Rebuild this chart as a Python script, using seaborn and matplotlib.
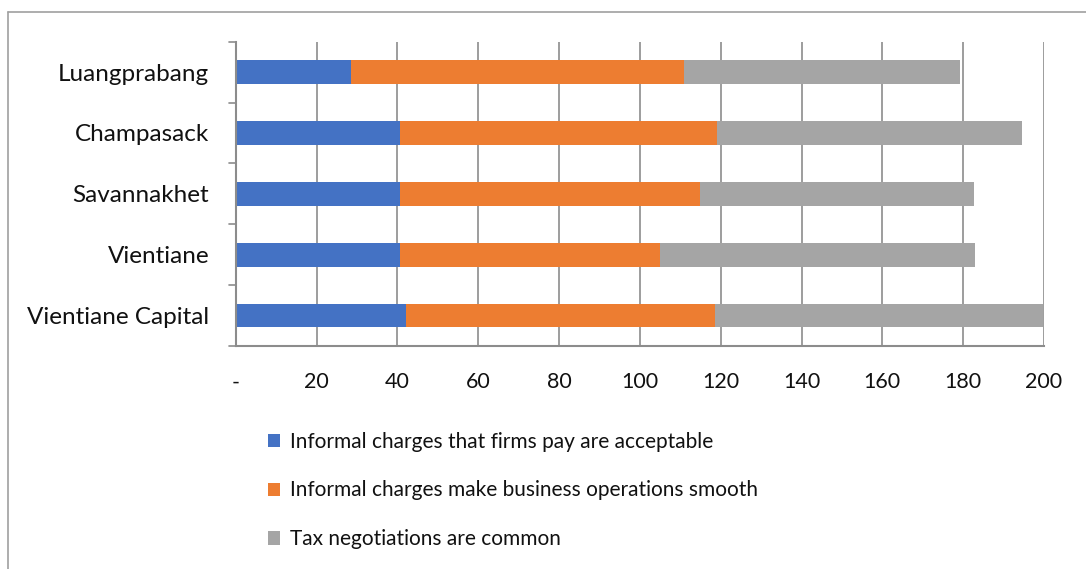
import matplotlib
matplotlib.use("Agg")
import matplotlib.pyplot as plt
from matplotlib.lines import Line2D
from matplotlib.patches import Patch
import seaborn as sns
import pandas as pd

regions = ["Luangprabang", "Champasack", "Savannakhet", "Vientiane", "Vientiane Capital"]
acceptable = [28.5, 40.7, 40.6, 40.6, 42.2]
smooth = [82.5, 78.3, 74.2, 64.4, 76.5]
negotiation = [68.3, 75.6, 68.0, 78.0, 81.0]

series_names = [
    "Informal charges that firms pay are acceptable",
    "Informal charges make business operations smooth",
    "Tax negotiations are common",
]
colors = ["#4472C4", "#ED7D31", "#A5A5A5"]
x_ticks = [0, 20, 40, 60, 80, 100, 120, 140, 160, 180, 200]
x_labels = ["-", "20", "40", "60", "80", "100", "120", "140", "160", "180", "200"]

sns.set_theme(style="white")
plt.rcParams["font.family"] = ["Lato", "DejaVu Sans"]

df = pd.DataFrame({"region": regions, "a": acceptable, "b": smooth, "c": negotiation})
df["ab"] = df["a"] + df["b"]
df["abc"] = df["ab"] + df["c"]

fig = plt.figure(figsize=(10.86, 5.69), dpi=100)
ax = fig.add_axes([235.7 / 1086, 1 - 346 / 569, (1044 - 235.7) / 1086, (346 - 41.7) / 569])

# cumulative totals drawn back-to-front give a stacked bar
for col, color in zip(["abc", "ab", "a"], colors[::-1]):
    sns.barplot(data=df, y="region", x=col, color=color, orient="h",
                width=0.39, saturation=1, ax=ax, zorder=3,
                edgecolor="none", linewidth=0)

ax.set_xlim(0, 200)
ax.set_ylim(4.5, -0.5)
ax.set_xticks(x_ticks)
ax.set_xticklabels(x_labels, fontsize=15.5, color="#111111")
ax.set_xlabel("")
ax.set_ylabel("")
ax.tick_params(axis="y", length=0, labelsize=17.5, labelcolor="#111111", pad=19)
ax.tick_params(axis="x", length=7, width=1, color="#8c8c8c", direction="out", pad=12)
ax.grid(axis="x", color="#8c8c8c", linewidth=1.2, zorder=0)

for side in ["top", "right"]:
    ax.spines[side].set_visible(False)
for side in ["left", "bottom"]:
    ax.spines[side].set_color("#8c8c8c")
    ax.spines[side].set_linewidth(1.5)
    ax.spines[side].set_zorder(4)

# category boundary ticks on the left axis
for b in [-0.5, 0.5, 1.5, 2.5, 3.5, 4.5]:
    ax.add_line(Line2D([-7 / 4.04, 0], [b, b], color="#8c8c8c", lw=1.2,
                       clip_on=False, zorder=4))

handles = [Patch(facecolor=c, edgecolor="none") for c in colors]
fig.legend(handles, series_names, loc="upper left",
           bbox_to_anchor=(249 / 1086, 1 - 413 / 569), frameon=False,
           fontsize=15, handlelength=0.6, handleheight=0.6,
           handletextpad=0.45, labelspacing=1.38, labelcolor="#111111")

# outer chart frame (top and left edges)
fig.add_artist(Line2D([8 / 1086, 1], [1 - 12 / 569, 1 - 12 / 569],
                      transform=fig.transFigure, color="#a0a0a0", lw=1.2))
fig.add_artist(Line2D([8 / 1086, 8 / 1086], [0, 1 - 12 / 569],
                      transform=fig.transFigure, color="#a0a0a0", lw=1.2))

fig.savefig("out.png", dpi=100)
